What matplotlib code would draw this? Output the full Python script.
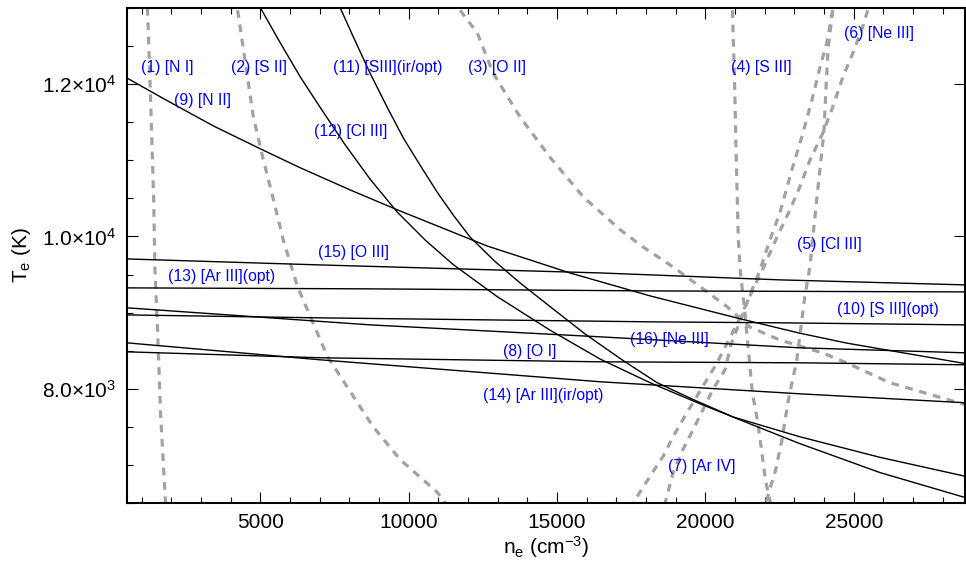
import matplotlib
matplotlib.use("Agg")
import matplotlib.pyplot as plt
from matplotlib.ticker import MultipleLocator, FixedLocator, FuncFormatter

plt.rcParams['font.family'] = ['Liberation Sans', 'DejaVu Sans']
plt.rcParams['mathtext.fontset'] = 'custom'
plt.rcParams['mathtext.rm'] = 'Liberation Sans'
plt.rcParams['mathtext.it'] = 'Liberation Sans:italic'
plt.rcParams['mathtext.bf'] = 'Liberation Sans:bold'

# ---------------- data ----------------
# gray dashed diagnostics: density-sensitive
ne_1 = [1190, 1260, 1330, 1400, 1440, 1530, 1630, 1730, 1800]
te_1 = [13000, 12220, 11360, 10480, 9600, 8770, 7690, 6980, 6500]

ne_2 = [4230, 4760, 5100, 5440, 5770, 6250, 7260, 8130, 8800, 9710, 10960, 11230]
te_2 = [12970, 11570, 11000, 10480, 9950, 9340, 8420, 7900, 7500, 7070, 6640, 6500]

ne_3 = [11730, 12310, 12850, 13750, 14760, 15880, 17120, 17900, 18910, 19820,
        20720, 21500, 22510, 23960, 24760, 26210, 27800, 28770]
te_3 = [12970, 12670, 12140, 11570, 11040, 10520, 10090, 9860, 9600, 9340,
        9080, 8810, 8640, 8470, 8340, 8080, 7900, 7790]

ne_4 = [20910, 20980, 21040, 21110, 21180, 21310, 21480, 21580, 21750, 21890, 22020, 22190]
te_4 = [12970, 12050, 11000, 9950, 9520, 9080, 8380, 7950, 7590, 7200, 6810, 6500]

ne_5 = [24290, 24130, 23990, 23750, 23520, 23350, 23080, 22780, 22580, 22370, 22170, 22040]
te_5 = [12970, 12450, 11360, 10480, 9600, 9210, 8380, 7820, 7330, 6940, 6680, 6500]

ne_6 = [25470, 25300, 24970, 24630, 24290, 23960, 23520, 23180, 22850, 22410, 22000,
        21600, 21160, 20760, 20390, 20050, 19710, 19380, 18910, 18570, 18130, 17560]
te_6 = [12970, 12750, 12410, 12090, 11700, 11360, 11000, 10650, 10350, 9990, 9630,
        9300, 8930, 8620, 8340, 8120, 7900, 7690, 7370, 7110, 6850, 6500]

ne_7 = [24290, 24090, 23860, 23590, 23250, 22910, 22510, 22170, 21840, 21500, 21160,
        20860, 20660, 20250, 19920, 19580, 19240, 18910, 18640]
te_7 = [12970, 12540, 12220, 11790, 11310, 10870, 10310, 9950, 9560, 9230, 8880,
        8580, 8250, 7990, 7730, 7460, 7200, 6900, 6500]

# black solid diagnostics: temperature-sensitive
ne_8 = [500, 7020, 16450, 23180, 28770]
te_8 = [8485, 8407, 8354, 8341, 8315]

ne_9 = [500, 1870, 3420, 5000, 6350, 8030, 9610, 12640, 15440, 18130, 21160,
        23180, 24760, 26990, 28770]
te_9 = [12080, 11780, 11450, 11150, 10900, 10610, 10350, 9875, 9520, 9220, 8920,
        8730, 8600, 8450, 8330]

ne_10 = [500, 7020, 18130, 22510, 28770]
te_10 = [8970, 8931, 8879, 8866, 8839]

ne_11 = [7690, 8130, 8700, 9280, 9820, 10390, 10960, 11500, 12070, 12910, 13750,
         14760, 15940, 17190, 18370, 19580, 20930, 23180, 25880, 28770]
te_11 = [13000, 12620, 12140, 11690, 11290, 10930, 10580, 10280, 9990, 9670, 9390,
         9080, 8720, 8380, 8080, 7860, 7630, 7370, 7100, 6850]

ne_12 = [5000, 5670, 6350, 7020, 7860, 8700, 9610, 10560, 11500, 12980, 14760,
         16450, 18130, 19710, 21500, 23180, 25880, 28770]
te_12 = [13000, 12540, 12090, 11690, 11200, 10750, 10320, 9950, 9630, 9210, 8770,
         8390, 8080, 7820, 7540, 7280, 6900, 6570]

ne_13 = [500, 8700, 18130, 28770]
te_13 = [9325, 9312, 9285, 9272]

ne_14 = [500, 7020, 16450, 23180, 28770]
te_14 = [8603, 8380, 8092, 7934, 7816]

ne_15 = [500, 7020, 16450, 22510, 28770]
te_15 = [9705, 9626, 9521, 9430, 9364]

ne_16 = [500, 8700, 16450, 23180, 28770]
te_16 = [9063, 8839, 8682, 8538, 8472]

dashed_series = [(ne_1, te_1), (ne_2, te_2), (ne_3, te_3), (ne_4, te_4),
                 (ne_5, te_5), (ne_6, te_6), (ne_7, te_7)]
solid_series = [(ne_8, te_8), (ne_9, te_9), (ne_10, te_10), (ne_11, te_11),
                (ne_12, te_12), (ne_13, te_13), (ne_14, te_14), (ne_15, te_15),
                (ne_16, te_16)]

label_texts = ["(1) [N I]", "(2) [S II]", "(3) [O II]", "(4) [S III]", "(5) [Cl III]",
               "(6) [Ne III]", "(7) [Ar IV]", "(8) [O I]", "(9) [N II]",
               "(10) [S III](opt)", "(11) [SIII](ir/opt)", "(12) [Cl III]",
               "(13) [Ar III](opt)", "(14) [Ar III](ir/opt)", "(15) [O III]",
               "(16) [Ne III]"]
label_ne = [960, 3990, 12000, 20860, 23080, 24660, 18740, 13180, 2070,
            24430, 7430, 6790, 1870, 12510, 6950, 17460]
label_te = [12223, 12223, 12223, 12223, 9889, 12669, 6977, 8485, 11790,
            9036, 12223, 11384, 9469, 7908, 9784, 8643]

y_major = [8000, 10000, 12000]

# ---------------- plotting ----------------
fig = plt.figure(figsize=(9.66, 5.67), dpi=100)
ax = fig.add_axes([127 / 966, 1 - 503 / 567, (965 - 127) / 966, (503 - 8) / 567])

for ne, te in dashed_series:
    ax.plot(ne, te, color='#a2a2a2', lw=2.3, dashes=(2.4, 2.1),
            solid_capstyle='butt', dash_capstyle='butt', zorder=2)
for ne, te in solid_series:
    ax.plot(ne, te, color='black', lw=1.0, zorder=3)

for txt, xn, yt in zip(label_texts, label_ne, label_te):
    ax.text(xn, yt, txt, color='#0000ff', fontsize=11.3, ha='left', va='center',
            zorder=4)

ax.set_xlim(500, 28750)
ax.set_ylim(6500, 13000)

ax.xaxis.set_major_locator(MultipleLocator(5000))
ax.xaxis.set_minor_locator(MultipleLocator(1000))
ax.yaxis.set_major_locator(FixedLocator(y_major))
ax.yaxis.set_minor_locator(MultipleLocator(500))


def yfmt(v, pos):
    import math
    e = int(math.floor(math.log10(v)))
    m = v / 10 ** e
    return r'%.1f$\times$10$^{%d}$' % (m, e)


ax.yaxis.set_major_formatter(FuncFormatter(yfmt))

for s in ax.spines.values():
    s.set_linewidth(1.5)

ax.tick_params(which='both', direction='in', top=True, right=True, width=0.8,
               labelsize=15)
ax.tick_params(which='major', length=8)
ax.tick_params(which='minor', length=4, right=False)
ax.tick_params(axis='x', pad=7)
ax.tick_params(axis='y', pad=8)

ax.set_xlabel(r'n$_{\mathrm{e}}$ (cm$^{-3}$)', fontsize=15, labelpad=2)
ax.set_ylabel(r'T$_{\mathrm{e}}$ (K)', fontsize=15, labelpad=6)

fig.savefig('out.png', dpi=100)
